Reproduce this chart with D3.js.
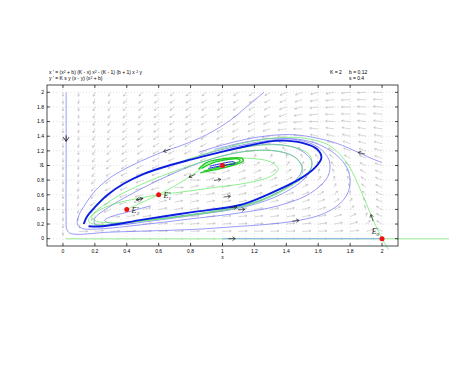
<!DOCTYPE html>
<html>
<head>
<meta charset="utf-8">
<script src="https://cdn.jsdelivr.net/npm/d3@7"></script>
<style>
  body { margin: 0; background: #fff; }
  svg { display: block; font-family: "Liberation Sans", Arial, sans-serif; }
</style>
</head>
<body>
<svg id="chart" width="463" height="382"></svg>
<script>
// model parameters (shown top right)
var K = 2, b = 0.12, s = 0.4;

var xTicks = [0, 0.2, 0.4, 0.6, 0.8, 1, 1.2, 1.4, 1.6, 1.8, 2];
var yTicks = [0, 0.2, 0.4, 0.6, 0.8, 1, 1.2, 1.4, 1.6, 1.8, 2];
var quiverX = [0, 0.1, 0.2, 0.3, 0.4, 0.5, 0.6, 0.7, 0.8, 0.9, 1, 1.1, 1.2, 1.3, 1.4, 1.5, 1.6, 1.7, 1.8, 1.9, 2];
var quiverY = [0, 0.1, 0.2, 0.3, 0.4, 0.5, 0.6, 0.7, 0.8, 0.9, 1, 1.1, 1.2, 1.3, 1.4, 1.5, 1.6, 1.7, 1.8, 1.9, 2];

// equilibria
var equilibria = [
  {name: "E0", x: 2, y: 0},
  {name: "E1", x: 0.6, y: 0.6},
  {name: "E2", x: 0.4, y: 0.4},
  {name: "E3", x: 1, y: 1}
];

// limit cycle (thick blue)
var limitCycle = [[0.13,0.2],[0.15,0.3],[0.2,0.43],[0.28,0.6],[0.38,0.75],[0.5,0.88],[0.65,0.99],
  [0.8,1.08],[1.0,1.19],[1.16,1.27],[1.27,1.32],[1.38,1.34],[1.5,1.31],[1.59,1.23],[1.62,1.11],
  [1.58,0.97],[1.48,0.81],[1.3,0.62],[1.11,0.46],[0.8,0.36],[0.5,0.26],[0.25,0.17],[0.16,0.17]];

// thin blue trajectories
var blueFromAxis = [[0.02,2.0],[0.02,1.0],[0.02,0.3],[0.025,0.12],[0.05,0.07],[0.3,0.09],[0.6,0.11],
  [0.85,0.13],[1.05,0.16],[1.3,0.2],[1.48,0.25],[1.62,0.33],[1.72,0.45],[1.78,0.6],[1.8,0.78],
  [1.78,0.97],[1.71,1.15],[1.6,1.29],[1.47,1.36],[1.32,1.35],[1.17,1.3],[1.02,1.23],[0.85,1.13]];
var blueFromTop = [[1.26,2.0],[1.15,1.8],[1.05,1.62],[0.9,1.42],[0.75,1.28],[0.63,1.19],[0.45,1.02],
  [0.3,0.84],[0.2,0.65],[0.14,0.47],[0.1,0.32],[0.09,0.2],[0.12,0.14],[0.2,0.13],[0.45,0.18],
  [0.8,0.27],[1.1,0.35],[1.35,0.45],[1.55,0.62],[1.66,0.85],[1.67,1.06],[1.6,1.25],[1.47,1.35],
  [1.3,1.37],[1.12,1.31],[0.95,1.22]];
var blueFromRight = [[2.0,1.04],[1.93,1.1],[1.85,1.18],[1.72,1.3],[1.6,1.37],[1.45,1.42],[1.3,1.41],
  [1.15,1.36],[1.0,1.28],[0.85,1.18]];
var blueInner = [[0.55,0.45],[0.4,0.36],[0.3,0.3],[0.26,0.25],[0.3,0.21],[0.5,0.25],[0.8,0.33],
  [1.1,0.43],[1.3,0.58],[1.45,0.78],[1.5,0.97],[1.45,1.12],[1.33,1.2],[1.17,1.2],[1.0,1.13],
  [0.8,0.99],[0.6,0.8],[0.42,0.6],[0.28,0.42],[0.2,0.28],[0.2,0.2],[0.3,0.18],[0.55,0.24],
  [0.85,0.33],[1.15,0.44],[1.38,0.62],[1.53,0.86],[1.56,1.05],[1.48,1.22],[1.32,1.29],[1.1,1.24]];
var blueAxis = [[1.0,0],[2.0,0]];
var blueE3 = [[0.91,0.96],[1.0,1.0],[1.08,1.03],[1.07,1.05],[1.0,1.03],[0.92,0.99]];

// green trajectories (separatrices)
var greenAxis = [[0.02,0],[1.0,0],[2.0,0],[2.42,0]];
var greenE0 = [[2.04,-0.15],[2.0,0],[1.96,0.18],[1.93,0.33],[1.87,0.64],[1.79,1.0],[1.68,1.26],
  [1.55,1.36],[1.41,1.385],[1.27,1.36],[1.12,1.3],[0.95,1.2],[0.75,1.06]];
var greenE3toE1 = [[1.1,1.09],[1.0,1.08],[0.9,1.02],[0.85,0.93],[0.79,0.84],[0.7,0.72],[0.6,0.6]];
var greenE2toE1 = [[0.4,0.4],[0.5,0.5],[0.6,0.6]];
var greenE1left = [[0.6,0.6],[0.47,0.55],[0.33,0.48],[0.22,0.38],[0.18,0.3],[0.21,0.24],[0.35,0.22],
  [0.6,0.27],[0.9,0.36],[1.2,0.5],[1.4,0.7],[1.5,0.9],[1.47,1.08],[1.36,1.19],[1.18,1.2],[0.98,1.12],
  [0.75,0.96],[0.5,0.75],[0.32,0.55],[0.2,0.36],[0.16,0.24],[0.22,0.19],[0.45,0.23],[0.8,0.32],
  [1.15,0.45],[1.4,0.68],[1.55,0.95],[1.55,1.13],[1.45,1.25],[1.25,1.28],[1.05,1.21]];
var greenE1right = [[0.6,0.6],[0.75,0.64],[0.95,0.7],[1.15,0.76],[1.3,0.85],[1.35,0.95],[1.3,1.05],
  [1.15,1.1],[1.0,1.1]];
var greenRing1 = [[0.88,0.92],[0.95,0.96],[1.05,1.02],[1.11,1.06],[1.1,1.09],[1.0,1.07],[0.92,1.02],[0.87,0.96]];
var greenRing2 = [[0.86,0.9],[0.95,0.94],[1.06,1.0],[1.13,1.06],[1.12,1.1],[1.0,1.09],[0.9,1.04],[0.85,0.95]];

// direction arrows on trajectories: [x, y, dx, dy]
var flowArrows = [[0.02,1.33,0,-1],[0.63,1.19,-1,-0.75],[0.79,0.84,-1,-1],[0.99,0.81,1,0.35],
  [1.05,0.58,1,0.25],[1.09,0.43,1,0.15],[1.14,0.4,1,0.15],[1.48,0.25,1,0.25],[1.08,0,1,0],
  [1.93,0.33,-0.15,1],[1.85,1.18,-1,0.55],[0.46,0.53,-1,-0.4],[0.5,0.55,1,0.5]];

var svg = d3.select("#chart");
var x = d3.scaleLinear().domain([-0.1, 2.1]).range([47, 398]);
var y = d3.scaleLinear().domain([-0.1, 2.1]).range([246, 85]);

// grid
var grid = svg.append("g").attr("stroke", "#c8c8c8").attr("stroke-width", 0.5).attr("stroke-dasharray", "1,2");
grid.selectAll(".gx").data(xTicks).enter().append("line")
    .attr("x1", d => x(d)).attr("x2", d => x(d)).attr("y1", y(-0.1)).attr("y2", y(2.1));
grid.selectAll(".gy").data(yTicks).enter().append("line")
    .attr("y1", d => y(d)).attr("y2", d => y(d)).attr("x1", x(-0.1)).attr("x2", x(2.1));

// direction field from the equations in the title
function field(px, py) {
  var u = (px*px + b) * (K - px) * px*px - (K - 1) * (b + 1) * px*px * py;
  var v = K * s * py * (px - py) * (px*px + b);
  return [u, v];
}
var quiver = svg.append("g").attr("stroke", "#b0b0b0").attr("stroke-width", 0.5).attr("fill", "none");
quiverX.forEach(function(qx) {
  quiverY.forEach(function(qy) {
    var f = field(qx, qy);
    var m = Math.hypot(f[0], f[1]);
    if (m < 1e-9) return;
    var L = 0.055;
    var ex = qx + f[0] / m * L, ey = qy + f[1] / m * L;
    var x0 = x(qx), y0 = y(qy), x1 = x(ex), y1 = y(ey);
    var a = Math.atan2(y1 - y0, x1 - x0), h = 2.2;
    quiver.append("path").attr("d",
      "M" + x0 + "," + y0 + "L" + x1 + "," + y1 +
      "M" + (x1 - h*Math.cos(a - 0.45)) + "," + (y1 - h*Math.sin(a - 0.45)) + "L" + x1 + "," + y1 +
      "L" + (x1 - h*Math.cos(a + 0.45)) + "," + (y1 - h*Math.sin(a + 0.45)));
  });
});

var line = d3.line().x(d => x(d[0])).y(d => y(d[1])).curve(d3.curveCatmullRom.alpha(0.5));
var closed = d3.line().x(d => x(d[0])).y(d => y(d[1])).curve(d3.curveCatmullRomClosed.alpha(0.5));

var curves = svg.append("g").attr("fill", "none");
function draw(pts, color, w, gen) {
  curves.append("path").attr("d", (gen || line)(pts)).attr("stroke", color).attr("stroke-width", w);
}
var blue = "#6f6ff7", green = "#5ee85e";
draw(greenAxis, "#b6f0b6", 1.6);
draw(blueAxis, "#7c9ff0", 0.8);
draw(blueFromAxis, blue, 0.7);
draw(blueFromTop, blue, 0.7);
draw(blueFromRight, blue, 0.7);
draw(blueInner, blue, 0.7);
draw(greenE0, green, 0.7);
draw(greenE1left, green, 0.7);
draw(greenE1right, green, 0.7);
draw(greenE3toE1, green, 0.7);
draw(greenE2toE1, green, 0.7);
draw(greenRing2, "#22cc22", 1.4, closed);
draw(greenRing1, "#22cc22", 1.4, closed);
draw(blueE3, "#1a1ad0", 1.0, closed);
draw(limitCycle, "#0a1ee0", 1.9, closed);

// flow arrows
var fa = svg.append("g").attr("stroke", "#222").attr("stroke-width", 0.7).attr("fill", "none");
flowArrows.forEach(function(d, i) {
  var dx = d[2] * (x(1) - x(0)), dy = -d[3] * (y(0) - y(1));
  var a = Math.atan2(dy, dx);
  var big = i === 0;
  var Ls = big ? 6 : 7, h = big ? 5 : 3.4;
  var x1 = x(d[0]), y1 = y(d[1]);
  var x0 = x1 - Ls * Math.cos(a), y0 = y1 - Ls * Math.sin(a);
  fa.append("path").attr("d",
    "M" + x0 + "," + y0 + "L" + x1 + "," + y1 +
    "M" + (x1 - h*Math.cos(a - 0.6)) + "," + (y1 - h*Math.sin(a - 0.6)) + "L" + x1 + "," + y1 +
    "L" + (x1 - h*Math.cos(a + 0.6)) + "," + (y1 - h*Math.sin(a + 0.6)))
    .attr("stroke-width", big ? 0.9 : 0.7);
});

// equilibria
svg.append("g").selectAll("circle").data(equilibria).enter().append("circle")
    .attr("cx", d => x(d.x)).attr("cy", d => y(d.y)).attr("r", 2.5).attr("fill", "#f01010");

var lab = svg.append("g").attr("font-family", "'Liberation Serif', serif").attr("font-style", "italic").attr("fill", "#222");
function eLabel(px, py, sub, star) {
  var t = lab.append("text").attr("x", px).attr("y", py).attr("font-size", 8);
  t.append("tspan").text("E");
  if (star) t.append("tspan").attr("font-size", 5).attr("dy", -3.5).text("*");
  t.append("tspan").attr("font-size", 5).attr("dy", star ? 5.5 : 2).attr("dx", star ? -2.3 : 0).text(sub);
}
eLabel(x(1.935), y(0.06), "0", false);
eLabel(x(0.63), y(0.55), "1", true);
eLabel(x(0.43), y(0.35), "2", true);

// frame and ticks
var frame = svg.append("g").attr("stroke", "#000").attr("stroke-width", 0.7);
frame.append("rect").attr("x", x(-0.1)).attr("y", y(2.1)).attr("width", x(2.1) - x(-0.1))
    .attr("height", y(-0.1) - y(2.1)).attr("fill", "none");
var tl = 3;
xTicks.forEach(function(t) {
  frame.append("line").attr("x1", x(t)).attr("x2", x(t)).attr("y1", y(-0.1)).attr("y2", y(-0.1) - tl);
  frame.append("line").attr("x1", x(t)).attr("x2", x(t)).attr("y1", y(2.1)).attr("y2", y(2.1) + tl);
});
yTicks.forEach(function(t) {
  frame.append("line").attr("y1", y(t)).attr("y2", y(t)).attr("x1", x(-0.1)).attr("x2", x(-0.1) + tl);
  frame.append("line").attr("y1", y(t)).attr("y2", y(t)).attr("x1", x(2.1)).attr("x2", x(2.1) - tl);
});

var txt = svg.append("g").attr("font-size", 5).attr("fill", "#000");
txt.selectAll(".xt").data(xTicks).enter().append("text")
    .attr("x", d => x(d)).attr("y", y(-0.1) + 7).attr("text-anchor", "middle").text(d => d3.format("~g")(d));
txt.selectAll(".yt").data(yTicks).enter().append("text")
    .attr("x", x(-0.1) - 3).attr("y", d => y(d) + 1.8).attr("text-anchor", "end").text(d => d3.format("~g")(d));
txt.append("text").attr("x", x(1)).attr("y", y(-0.1) + 13).attr("text-anchor", "middle").text("x");
txt.append("text").attr("x", 41).attr("y", y(1)).attr("text-anchor", "middle").text("y");

// equations and parameters
txt.append("text").attr("x", 49).attr("y", 74).html("x ' = (x<tspan dy='-1.5' font-size='3.5'>2</tspan><tspan dy='1.5'> + b) (K - x) x</tspan><tspan dy='-1.5' font-size='3.5'>2</tspan><tspan dy='1.5'> - (K - 1) (b + 1) x </tspan><tspan dy='-1.5' font-size='3.5'>2</tspan><tspan dy='1.5'> y</tspan>");
txt.append("text").attr("x", 49).attr("y", 80).html("y ' = K s y (x - y) (x<tspan dy='-1.5' font-size='3.5'>2</tspan><tspan dy='1.5'> + b)</tspan>");
txt.append("text").attr("x", 330).attr("y", 74).text("K = " + K);
txt.append("text").attr("x", 349).attr("y", 74).text("b = " + b);
txt.append("text").attr("x", 349).attr("y", 80).text("s = " + s);
</script>
</body>
</html>
